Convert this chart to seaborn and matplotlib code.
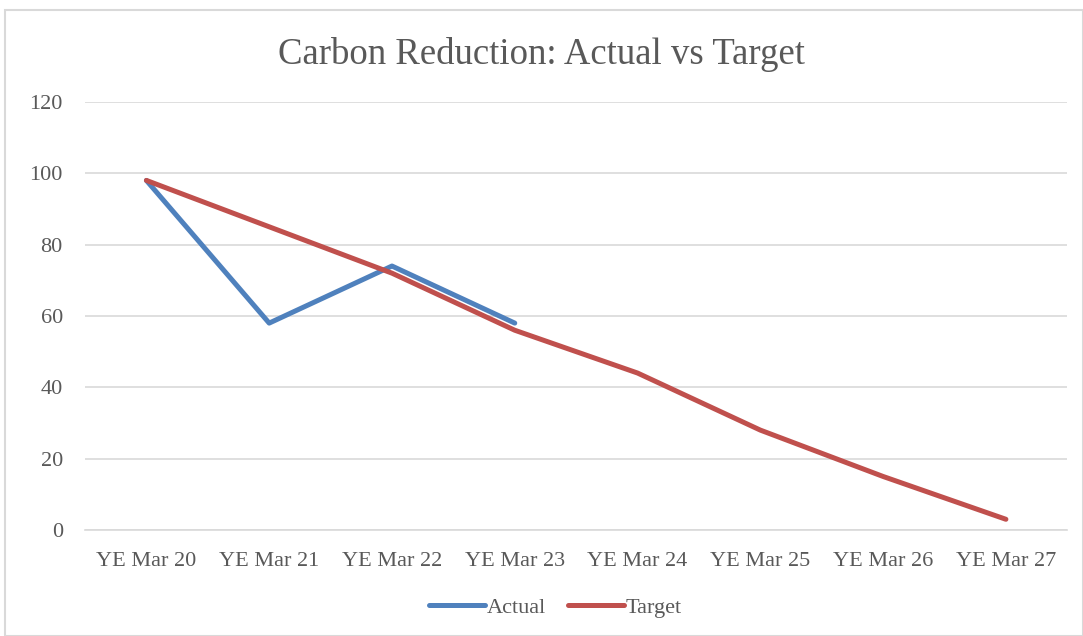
import matplotlib
matplotlib.use("Agg")
import matplotlib.pyplot as plt
import numpy as np
import pandas as pd
import seaborn as sns
from matplotlib.patches import Rectangle

years = ["YE Mar 20", "YE Mar 21", "YE Mar 22", "YE Mar 23",
         "YE Mar 24", "YE Mar 25", "YE Mar 26", "YE Mar 27"]
actual = [98, 58, 74, 58, np.nan, np.nan, np.nan, np.nan]
target = [98, 85, 72, 56, 44, 28, 15, 3]
y_ticks = [0, 20, 40, 60, 80, 100, 120]

df = pd.concat([
    pd.DataFrame({"year": years, "value": actual, "series": "Actual"}),
    pd.DataFrame({"year": years, "value": target, "series": "Target"}),
]).dropna()

sns.set_theme(style="white")
plt.rcParams["font.family"] = ["Liberation Serif", "DejaVu Serif"]

fig = plt.figure(figsize=(10.83, 6.36), dpi=100)
fig.patches.append(Rectangle((5 / 1083, 0), 1 - 5 / 1083, 1 - 10 / 636,
                             transform=fig.transFigure, fill=False,
                             edgecolor="#d9d9d9", linewidth=1.5))
ax = fig.add_axes([0.0785, 0.1667, 0.907, 0.673])

sns.lineplot(data=df, x="year", y="value", hue="series",
             palette={"Actual": "#4F81BD", "Target": "#C0504D"},
             linewidth=3.6, sort=False, ax=ax, legend=False)
for line in ax.lines:
    line.set_solid_capstyle("round")
    line.set_solid_joinstyle("round")

ax.set_xlim(-0.5, len(years) - 0.5)
ax.set_ylim(0, 120)
ax.set_yticks(y_ticks)
ax.set_xticks(range(len(years)))
ax.set_xticklabels(years)
ax.yaxis.grid(True, color="#d9d9d9", linewidth=1.2)
ax.set_axisbelow(True)
for side in ["left", "right", "top"]:
    ax.spines[side].set_visible(False)
ax.spines["bottom"].set_color("#d9d9d9")
ax.spines["bottom"].set_linewidth(1.2)
ax.tick_params(axis="both", length=0, labelsize=16, colors="#595959")
ax.tick_params(axis="x", pad=16)
ax.tick_params(axis="y", pad=16)
ax.set_xlabel("")
ax.set_ylabel("")

fig.text(0.5, 0.914, "Carbon Reduction: Actual vs Target", ha="center",
         va="center", fontsize=26.5, color="#595959")

handles = [plt.Line2D([], [], color="#4F81BD", lw=3.6, solid_capstyle="round"),
           plt.Line2D([], [], color="#C0504D", lw=3.6, solid_capstyle="round")]
fig.legend(handles, ["Actual", "Target"], loc="center",
           bbox_to_anchor=(0.513, 0.045), ncol=2, frameon=False,
           fontsize=16, labelcolor="#595959", handlelength=2.5,
           handletextpad=0.1, columnspacing=1.0)

fig.savefig("out.png", dpi=100)
